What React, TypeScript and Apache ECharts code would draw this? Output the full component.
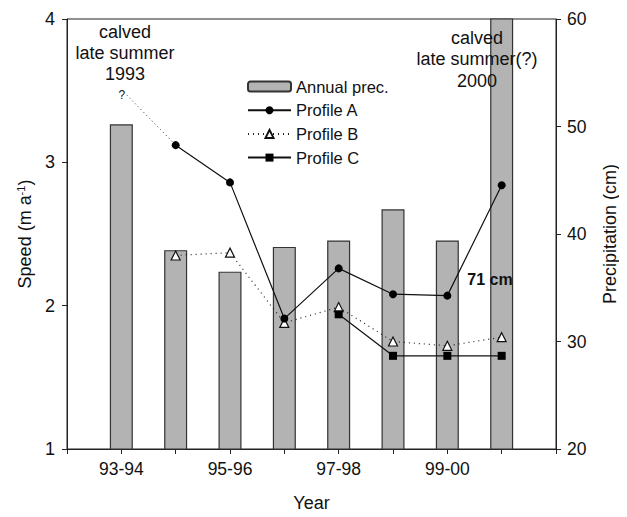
import React, { useEffect, useRef } from "react";
import * as echarts from "echarts";

const categories = ["93-94", "94-95", "95-96", "96-97", "97-98", "98-99", "99-00", "00-01"];
const tickLabels: Record<number, string> = { 1: "93-94", 3: "95-96", 5: "97-98", 7: "99-00" };
const precipitation = [50.2, 38.5, 36.5, 38.8, 39.4, 42.3, 39.4, 71];
const profileA: (number | null)[] = [null, 3.12, 2.86, 1.91, 2.26, 2.08, 2.07, 2.84];
const profileB: (number | null)[] = [null, 2.35, 2.37, 1.88, 1.99, 1.75, 1.72, 1.78];
const profileC: (number | null)[] = [null, null, null, null, 1.94, 1.65, 1.65, 1.65];
const extrapolated: [number, number][] = [[1.1, 3.47], [2, 3.12]];

const FONT = "'Liberation Sans', Arial, sans-serif";

function pairs(vals: (number | null)[]) {
  const out: [number, number][] = [];
  vals.forEach((v, i) => {
    if (v !== null) out.push([i + 1, v]);
  });
  return out;
}

export default function App() {
  const ref = useRef<HTMLDivElement>(null);
  useEffect(() => {
    if (!ref.current) return;
    const chart = echarts.init(ref.current, undefined, { renderer: "svg" });
    const axisLine = { show: true, lineStyle: { color: "#222", width: 1 } };
    chart.setOption({
      animation: false,
      textStyle: { fontFamily: FONT, color: "#111" },
      grid: { left: 67, right: 71, top: 19, bottom: 64, show: true, borderColor: "#222", borderWidth: 1 },
      legend: {
        orient: "vertical",
        left: 242,
        top: 73,
        itemWidth: 43,
        itemHeight: 10,
        itemGap: 6.7,
        textStyle: { fontFamily: FONT, fontSize: 16.5, color: "#111" },
        data: ["Annual prec.", "Profile A", "Profile B", "Profile C"],
      },
      xAxis: {
        type: "value",
        min: 0,
        max: 9,
        interval: 1,
        name: "Year",
        nameLocation: "middle",
        nameGap: 45,
        nameTextStyle: { fontFamily: FONT, fontSize: 18, color: "#111" },
        axisLine,
        axisTick: { show: true, length: 5, lineStyle: { color: "#222" } },
        splitLine: { show: false },
        axisLabel: {
          fontFamily: FONT,
          fontSize: 17.5,
          color: "#111",
          margin: 11,
          formatter: (v: number) => tickLabels[v] || "",
        },
      },
      yAxis: [
        {
          type: "value",
          min: 1,
          max: 4,
          interval: 1,
          position: "left",
          name: "Speed (m a{sup|-1})",
          nameLocation: "middle",
          nameGap: 31,
          nameRotate: 90,
          nameTextStyle: {
            fontFamily: FONT,
            fontSize: 18,
            color: "#111",
            rich: { sup: { fontSize: 11, verticalAlign: "top", padding: [0, 0, 9, 0], fontFamily: FONT, color: "#111" } },
          },
          axisLine,
          axisTick: { show: true, length: 5, lineStyle: { color: "#222" } },
          splitLine: { show: false },
          axisLabel: { fontFamily: FONT, fontSize: 18, color: "#111", margin: 12 },
        },
        {
          type: "value",
          min: 20,
          max: 60,
          interval: 10,
          position: "right",
          name: "Precipitation (cm)",
          nameLocation: "middle",
          nameGap: 45,
          nameRotate: 90,
          nameTextStyle: { fontFamily: FONT, fontSize: 18, color: "#111" },
          axisLine,
          axisTick: { show: true, length: 5, lineStyle: { color: "#222" } },
          splitLine: { show: false },
          axisLabel: { fontFamily: FONT, fontSize: 17.5, color: "#111", margin: 11 },
        },
      ],
      series: [
        {
          name: "Annual prec.",
          type: "bar",
          yAxisIndex: 1,
          barWidth: 23,
          clip: true,
          data: precipitation.map((v, i) => [i + 1, v]),
          itemStyle: { color: "#b3b3b3", borderColor: "#333", borderWidth: 1.2 },
          z: 1,
        },
        {
          name: "extrapolation",
          type: "line",
          yAxisIndex: 0,
          data: extrapolated.map((p, i) =>
            i === 0
              ? {
                  value: p,
                  label: {
                    show: true,
                    formatter: "?",
                    position: "left",
                    distance: 1,
                    fontSize: 12,
                    color: "#111",
                    fontFamily: FONT,
                  },
                }
              : { value: p }
          ),
          symbol: "circle",
          symbolSize: 1,
          itemStyle: { color: "rgba(0,0,0,0)" },
          lineStyle: { color: "#333", width: 1, type: [1, 3] },
          z: 3,
        },
        {
          name: "Profile A",
          type: "line",
          yAxisIndex: 0,
          data: pairs(profileA),
          symbol: "circle",
          symbolSize: 8,
          itemStyle: { color: "#000" },
          lineStyle: { color: "#111", width: 1.2 },
          z: 5,
        },
        {
          name: "Profile B",
          type: "line",
          yAxisIndex: 0,
          data: pairs(profileB),
          symbol: "triangle",
          symbolSize: 9,
          itemStyle: { color: "#fff", borderColor: "#111", borderWidth: 1.2 },
          lineStyle: { color: "#222", width: 1.2, type: [1, 4] },
          z: 4,
        },
        {
          name: "Profile C",
          type: "line",
          yAxisIndex: 0,
          data: pairs(profileC),
          symbol: "rect",
          symbolSize: 8,
          itemStyle: { color: "#000" },
          lineStyle: { color: "#111", width: 1.2 },
          z: 5,
        },
      ],
      graphic: [
        {
          type: "text",
          x: 125,
          y: 21,
          z: 100,
          style: {
            text: "calved\nlate summer\n1993",
            align: "center",
            verticalAlign: "top",
            font: `18px ${FONT}`,
            lineHeight: 21,
            fill: "#111",
          },
        },
        {
          type: "text",
          x: 477,
          y: 27,
          z: 100,
          style: {
            text: "calved\nlate summer(?)\n2000",
            align: "center",
            verticalAlign: "top",
            font: `18px ${FONT}`,
            lineHeight: 21.5,
            fill: "#111",
          },
        },
        {
          type: "text",
          x: 490,
          y: 279,
          z: 100,
          style: {
            text: "71 cm",
            align: "center",
            verticalAlign: "middle",
            font: `bold 16px ${FONT}`,
            fill: "#111",
          },
        },
      ],
    });
    return () => chart.dispose();
  }, []);
  return <div ref={ref} style={{ width: 627, height: 517, margin: -8 }} />;
}
